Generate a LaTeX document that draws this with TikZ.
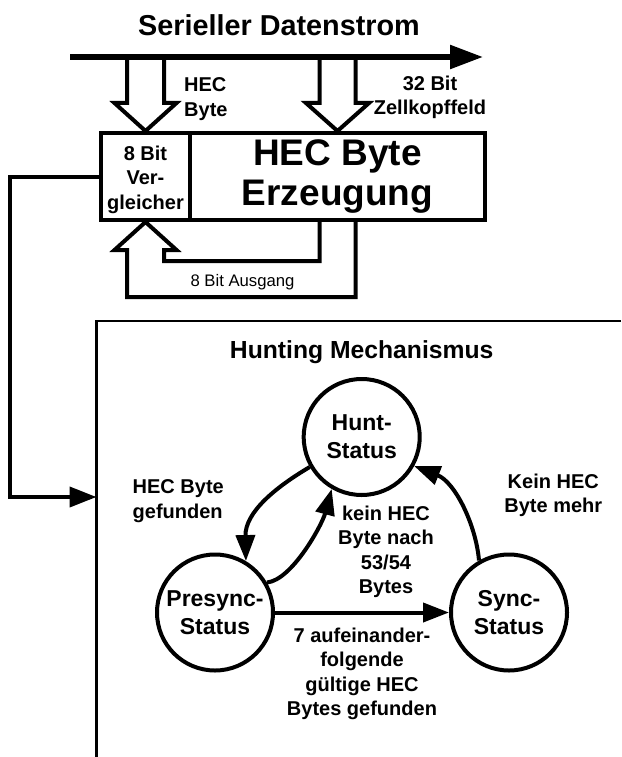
\documentclass[tikz,border=0pt]{standalone}
\usepackage{fontspec}
\setmainfont{Liberation Sans}
\usetikzlibrary{arrows.meta,calc}
\begin{document}
\begin{tikzpicture}[x=1pt,y=-1pt,
  lbl/.style={font=\bfseries\fontsize{20}{24.5}\selectfont,align=center,inner sep=0pt},
  block/.style={draw,line width=4pt,inner sep=0pt,align=center},
  hollow/.style={line width=4pt,line join=miter,miter limit=10},
  stnode/.style={draw,circle,line width=4pt,minimum size=116pt,inner sep=0pt,align=center,
    font=\bfseries\fontsize{23}{28}\selectfont},
  flow/.style={line width=4pt,-{Triangle[length=26pt,width=19pt]}},
]
\useasboundingbox (0,0) rectangle (621,757);

% title and serial data stream
\node[font=\bfseries\fontsize{28.8}{34}\selectfont,inner sep=0pt] (title) at (279,25) {Serieller Datenstrom};
\coordinate (ds0) at (70,57);
\coordinate (ds1) at (483,57);
\draw[line width=5.5pt,-{Triangle[length=33pt,width=23pt]}] (ds0) -- (ds1);

% comparator and HEC generator blocks
\node[block,minimum width=89pt,minimum height=87pt] (comp) at (145.5,176.5) {};
\node[lbl] (lcomp) at (145.5,179.5) {8 Bit\\Ver-\\gleicher};
\node[block,minimum width=295pt,minimum height=87pt,
      font=\bfseries\fontsize{37}{40}\selectfont] (gen) at (337.5,176.5) {HEC Byte\\Erzeugung};

% hollow arrows from the data stream into the blocks
\draw[hollow] (127,57) -- (127,103) -- (114.5,103) -- (comp.north)
  -- (176.5,103) -- (164,103) -- (164,57);
\draw[hollow] (319.5,57) -- (319.5,103) -- (306,103) -- (gen.north)
  -- (369,103) -- (355.5,103) -- (355.5,57);
\node[lbl,align=left,anchor=west] (lhec) at (184,99) {HEC\\Byte};
\node[lbl] (l32) at (430,97.5) {32 Bit\\Zellkopffeld};

% 8 bit output fed back to the comparator
\draw[hollow] (355.5,220) -- (355.5,297) -- (127,297) -- (127,250) -- (114.5,250)
  -- (comp.south) -- (176.5,250) -- (164,250) -- (164,261) -- (319.5,261) -- (319.5,220);
\node[font=\fontsize{16.7}{20}\selectfont,inner sep=0pt] (laus) at (242.5,281.7) {8 Bit Ausgang};

% comparator result into the hunting mechanism
\coordinate (hin) at (96.5,497);
\draw[line width=4pt,line join=miter,-{Triangle[length=27pt,width=20pt]}]
  (comp.west) -- (10,176.5) |- (hin);

% hunting mechanism frame
\draw[line width=2.5pt,line join=miter] (621,321) -- (96.5,321) -- (96.5,757);
\node[font=\bfseries\fontsize{24.7}{30}\selectfont,inner sep=0pt] (htitle) at (361.7,352.6) {Hunting Mechanismus};

% states
\node[stnode] (hunt) at (361.7,437) {Hunt-\\Status};
\node[stnode] (pre) at (215,612.5) {Presync-\\Status};
\node[stnode] (sync) at (509,612.5) {Sync-\\Status};

% transitions
\draw[flow] (hunt.210) .. controls (276,487) and (245,512) .. (pre.59);
\draw[flow] (pre.30) .. controls (292,580) and (322,525) .. (hunt.240);
\draw[flow] (pre.east) -- (sync.west);
\draw[flow] (sync.120) .. controls (476,525) and (455,482) .. (hunt.-29);

% transition labels
\node[lbl,align=left,anchor=west] (lfound) at (132.5,501) {HEC Byte\\gefunden};
\node[lbl] (llost) at (386,552) {kein HEC\\Byte nach\\53/54\\Bytes};
\node[lbl,font=\bfseries\fontsize{20}{23.5}\selectfont] (lmore) at (553.3,495.5) {Kein HEC\\Byte mehr};
\node[lbl] (lseven) at (362,673.7) {7 aufeinander-\\folgende\\gültige HEC\\Bytes gefunden};
\end{tikzpicture}
\end{document}
